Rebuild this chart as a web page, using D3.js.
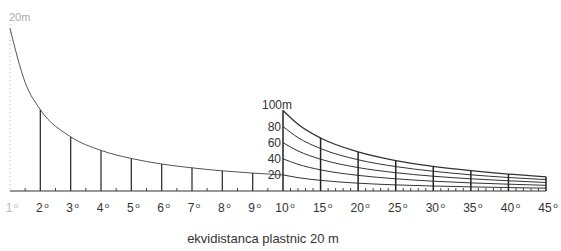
<!DOCTYPE html>
<html lang="sl">
<head>
  <meta charset="UTF-8">
  <script src="https://cdn.jsdelivr.net/npm/d3@7"></script>
  <title>Ekvidistanca plastnic</title>
  <style>
    body { margin: 0; background: #fff; }
    text { font-family: 'Liberation Sans', Arial, sans-serif; fill: #333; }
    .deg { font-size: 12px; }
    .lvl { font-size: 12px; text-anchor: end; }
  </style>
</head>
<body>
  <script>
    // left gauge: 1..10 degrees, 20 m contour interval (horizontal distance in m)
    const leftDeg = [1, 1.5, 2, 3, 4, 5, 6, 7, 8, 9, 10];
    const leftDist = [1146, 764, 573, 382, 286, 229, 190, 163, 142, 126, 113];
    const leftTicks = [2, 3, 4, 5, 6, 7, 8, 9];

    // right gauge: 10..45 degrees, one curve per height difference
    const rightDeg = [10, 12, 15, 20, 25, 30, 35, 40, 45];
    const levels = [20, 40, 60, 80, 100];
    const dist20 = [113, 94, 75, 55, 43, 35, 29, 24, 20];
    const dist40 = [227, 188, 149, 110, 86, 69, 57, 48, 40];
    const dist60 = [340, 282, 224, 165, 129, 104, 86, 72, 60];
    const dist80 = [454, 376, 299, 220, 172, 139, 114, 95, 80];
    const dist100 = [567, 470, 373, 275, 214, 173, 143, 119, 100];
    const rightCurves = [dist20, dist40, dist60, dist80, dist100];
    const rightTicks = [10, 15, 20, 25, 30, 35, 40, 45];
    const levelLabels = ['20', '40', '60', '80', '100m'];

    const title = 'ekvidistanca plastnic 20 m';

    const width = 561, height = 251, base = 191;
    const xL = d3.scaleLinear().domain([1, 10]).range([10, 283]);
    const xR = d3.scaleLinear().domain([10, 45]).range([283, 546]);
    const y = d3.scaleLinear().domain([0, 1200]).range([base, base - 170.4]);

    const svg = d3.select('body').append('svg').attr('width', width).attr('height', height);

    // dotted left axis
    svg.append('line')
      .attr('x1', xL(1)).attr('x2', xL(1))
      .attr('y1', y(leftDist[0]) - 4).attr('y2', base)
      .attr('stroke', '#aaa').attr('stroke-dasharray', '1,3');
    svg.append('text').attr('x', 9).attr('y', 21)
      .style('font-size', '11px').style('fill', '#aaa').text('20m');

    // baseline
    svg.append('line')
      .attr('x1', xL(1)).attr('x2', xR(45))
      .attr('y1', base).attr('y2', base)
      .attr('stroke', '#333').attr('stroke-width', 1.2);

    // minor ticks
    const minorL = d3.range(1.5, 10, 1);
    const minorR = d3.range(11, 45, 1).filter(d => d % 5 !== 0);
    svg.selectAll('.mt').data(minorL.map(xL).concat(minorR.map(xR)))
      .enter().append('line')
      .attr('x1', d => d).attr('x2', d => d)
      .attr('y1', base).attr('y2', base - 3)
      .attr('stroke', '#444');

    // left curve
    const lineL = d3.line().x((d, i) => xL(leftDeg[i])).y(d => y(d)).curve(d3.curveMonotoneX);
    svg.append('path').attr('d', lineL(leftDist))
      .attr('fill', 'none').attr('stroke', '#555').attr('stroke-width', 1);

    svg.selectAll('.vl').data(leftTicks).enter().append('line')
      .attr('x1', d => xL(d)).attr('x2', d => xL(d))
      .attr('y1', base).attr('y2', d => y(leftDist[leftDeg.indexOf(d)]))
      .attr('stroke', '#333').attr('stroke-width', 1.3);

    // right curves
    const lineR = d3.line().x((d, i) => xR(rightDeg[i])).y(d => y(d)).curve(d3.curveMonotoneX);
    svg.selectAll('.rc').data(rightCurves).enter().append('path')
      .attr('d', d => lineR(d))
      .attr('fill', 'none').attr('stroke', '#333')
      .attr('stroke-width', (d, i) => i === rightCurves.length - 1 ? 1.3 : 1);

    svg.selectAll('.vr').data(rightTicks).enter().append('line')
      .attr('x1', d => xR(d)).attr('x2', d => xR(d))
      .attr('y1', base).attr('y2', d => y(dist100[rightDeg.indexOf(d)]))
      .attr('stroke', '#222').attr('stroke-width', 1.5);

    // level labels
    svg.selectAll('.lvl').data(levels).enter().append('text')
      .attr('class', 'lvl')
      .attr('x', (d, i) => i === levels.length - 1 ? 292 : 281)
      .attr('y', (d, i) => y(rightCurves[i][0]) + (i === levels.length - 1 ? -6 : 0))
      .attr('dy', '0.35em')
      .text((d, i) => levelLabels[i]);

    // degree labels, small raised "o" as degree sign
    const degLabels = [1].concat(leftTicks).map(d => ({ d, x: xL(d) }))
      .concat(rightTicks.map(d => ({ d, x: xR(d) })));
    const dl = svg.selectAll('.deg').data(degLabels).enter().append('text')
      .attr('class', 'deg')
      .attr('x', d => d.x + 2).attr('y', 212)
      .attr('text-anchor', 'middle')
      .style('fill', d => d.d === 1 ? '#bbb' : '#333');
    dl.append('tspan').text(d => d.d);
    dl.append('tspan').attr('dx', 1.5).attr('dy', -4)
      .style('font-size', '8px').style('fill', d => d.d === 1 ? '#bbb' : '#333')
      .text('o');

    svg.append('text').attr('x', 263).attr('y', 243)
      .attr('text-anchor', 'middle').style('font-size', '13px')
      .text(title);
  </script>
</body>
</html>
